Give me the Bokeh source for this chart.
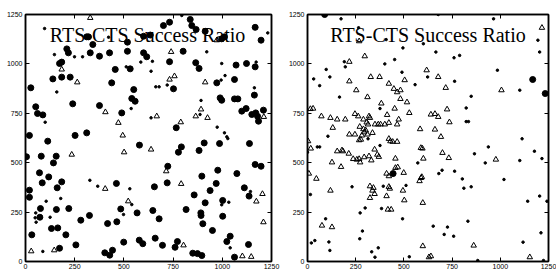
from bokeh.plotting import figure
from bokeh.models import LinearAxis, FixedTicker, Label, Range1d
from bokeh.layouts import row
from bokeh.embed import file_html
from bokeh.resources import INLINE

TICKS = [0, 250, 500, 750, 1000, 1250]
TICK_LABELS = ["0", "250", "500", "750", "1000", "1250"]
TITLE = "RTS-CTS Success Ratio"

# ---------------- left panel ----------------
left_circle_x = [311, 320, 518, 342, 210, 218, 329, 376, 427, 518, 600, 616, 173, 184, 456, 532, 139, 184, 227, 438,
                 27, 550, 540, 557, 240, 376, 52, 61, 88, 489, 20, 252, 311, 579, 113, 5, 80, 156, 142, 71, 118, 184,
                 85, 462, 161, 655, 20, 20, 76, 157, 220, 484, 567, 647, 73, 281, 325, 464, 417, 132, 164, 32, 205,
                 659, 578, 596, 499, 256, 173, 442, 403, 428,
                 732, 837, 845, 701, 600, 634, 867, 913, 1167, 1197, 997, 1011, 801, 732, 865, 882, 1070, 1123, 1167,
                 752, 972, 1062, 1163, 989, 997, 1062, 1079, 1121, 1099, 1150, 1170, 1179, 1209, 1184, 766,
                 777, 792, 908, 882, 986, 1138, 723, 896, 977, 1074, 1167, 1197, 720, 969, 938, 1112, 1136, 857, 913,
                 1002, 816, 891, 892, 1002, 679, 901, 950, 1023, 1040, 696, 760, 772, 1133, 850, 874, 896, 1062]
left_circle_y = [1137, 1137, 1110, 1098, 1076, 1056, 1056, 1039, 1056, 1064, 1056, 1036, 1002, 1009, 972, 975, 924, 933,
                 933, 904, 879, 870, 825, 811, 798, 789, 783, 749, 742, 752, 638, 638, 651, 589, 609, 530, 533, 533,
                 499, 449, 428, 403, 398, 395, 373, 378, 361, 325, 268, 263, 268, 266, 246, 258, 224, 209, 233, 201,
                 192, 167, 170, 135, 135, 118, 108, 90, 98, 84, 67, 57, 44, 32,
                 1211, 1225, 1194, 1194, 1140, 1146, 1174, 1165, 1185, 1120, 1127, 1137, 1064, 1011, 1006, 977, 994,
                 1002, 985, 874, 904, 921, 842, 828, 816, 823, 823, 774, 761, 744, 752, 735, 766, 710, 677,
                 553, 580, 600, 562, 597, 597, 482, 432, 462, 445, 491, 482, 398, 395, 359, 373, 331, 337, 297, 309,
                 263, 246, 233, 229, 216, 191, 157, 101, 128, 82, 72, 101, 86, 42, 40, 30, 22]

left_triangle_x = [329, 184, 263, 406, 472, 667, 494, 501, 638, 235, 405, 522, 146, 29, 972, 740, 732, 757, 913, 892,
                   1211, 789, 865, 925, 715, 791, 1204, 1173, 1209, 803, 1102, 1147]
left_triangle_y = [1233, 972, 907, 756, 702, 735, 638, 553, 567, 541, 368, 305, 57, 52, 1120, 1061, 921, 938, 907, 770,
                   732, 705, 735, 727, 457, 393, 342, 304, 199, 82, 27, 24]

left_dot_x = [97, 422, 147, 249, 290, 586, 645, 512, 638, 159, 662, 537, 100, 638, 327, 367, 530, 179, 105, 540, 52,
              498, 49, 125, 54, 88, 794, 1231, 921, 997, 1172, 720, 679, 994, 1014, 1163, 892, 887, 974, 1011, 1023,
              1028, 1143, 997, 1033, 1040]
left_dot_y = [1179, 1135, 1047, 1036, 1036, 1009, 1013, 985, 963, 858, 884, 774, 705, 727, 411, 381, 368, 319, 305,
              288, 246, 238, 221, 224, 199, 51, 1245, 1157, 1061, 1002, 1009, 893, 884, 918, 941, 879, 815, 744, 680,
              651, 631, 622, 354, 287, 300, 69]

# ---------------- right panel ----------------
right_circle_x = [89, 444, 1168, 1233]
right_circle_y = [1250, 445, 921, 850]

right_triangle_x = [268, 297, 217, 618, 328, 374, 217, 504, 422, 253, 448, 465, 482, 311, 482, 516, 383, 452, 15, 29,
                    528, 413, 72, 119, 154, 196, 246, 263, 319, 324, 290, 473, 131, 271, 307, 314, 350, 367, 379, 401,
                    422, 465, 290, 302, 584, 217, 246, 282, 294, 311,
                    277, 268, 337, 422, 430, 442, 465, 17, 3, 154, 179, 184, 214, 348, 362, 370, 456, 596, 601, 237,
                    256, 268, 273, 294, 319, 331, 127, 174, 456, 468, 7, 46, 410, 422, 499, 593, 581, 324, 342, 337,
                    422, 427, 119, 495, 348, 324, 410, 502, 598, 417, 434, 75, 127, 598, 630,
                    1216, 678, 717, 1006, 640, 661, 678, 724, 736, 661, 692, 588, 700, 733, 977, 589, 862, 640, 1153]
right_triangle_y = [1115, 1039, 1011, 968, 934, 934, 912, 918, 900, 867, 874, 857, 867, 832, 823, 806, 800, 774, 772,
                    774, 752, 742, 735, 727, 719, 719, 747, 735, 735, 727, 719, 719, 677, 682, 704, 694, 694, 694, 694,
                    694, 702, 694, 670, 664, 670, 643, 643, 638, 654, 643,
                    617, 614, 651, 621, 609, 606, 606, 572, 609, 558, 563, 558, 546, 567, 541, 530, 521, 572, 521, 519,
                    516, 519, 502, 528, 533, 512, 502, 479, 474, 477, 445, 419, 445, 432, 449, 428, 407, 381, 373, 359,
                    378, 369, 359, 359, 342, 322, 331, 310, 297, 263, 263, 182, 174, 78, 22,
                    1183, 934, 879, 867, 744, 747, 732, 770, 705, 668, 631, 575, 550, 524, 516, 423, 81, 27, 22]

right_dot_x = [174, 265, 408, 601, 495, 452, 191, 196, 401, 97, 490, 623, 116, 32, 63, 558, 166, 376, 106, 314, 51, 63,
               0, 376, 572, 511, 231, 393, 15, 299, 384, 273, 493, 94, 285, 271, 38, 20, 111, 367, 116, 333, 350, 528,
               678, 965, 1195, 666, 1204, 760, 789, 985, 763, 1101, 849, 823, 823, 835, 1113, 938, 866, 1177, 922,
               1101, 1216, 698, 763, 681, 803, 811, 849, 1019, 1142, 1204, 1242, 832, 652, 726, 709, 758, 1211, 1118,
               883, 1224]
right_dot_y = [1228, 1183, 1123, 1102, 1081, 1022, 1011, 985, 1000, 972, 958, 934, 934, 924, 890, 895, 832, 774, 634,
               621, 580, 580, 553, 587, 499, 385, 378, 381, 339, 271, 268, 246, 216, 216, 154, 115, 106, 94, 99, 69,
               56, 49, 22, 24,
               1250, 1228, 1120, 1060, 1060, 1031, 1043, 968, 912, 867, 836, 777, 708, 708, 621, 580, 545, 558, 499,
               511, 521, 462, 457, 445, 418, 371, 378, 415, 305, 331, 305, 204, 179, 174, 137, 128, 145, 98, 5, 5]


def make_panel(cx, cy, tx, ty, dx, dy, border_left, border_right, total_w, title_x):
    p = figure(width=total_w, height=272,
               min_border_left=border_left, min_border_right=border_right,
               min_border_top=14, min_border_bottom=11,
               x_range=Range1d(0, 1250), y_range=Range1d(0, 1250),
               x_axis_location=None, y_axis_location=None,
               output_backend="svg", toolbar_location=None)
    p.grid.grid_line_color = None
    p.outline_line_color = "black"
    p.outline_line_width = 1.5
    p.background_fill_color = "white"
    p.border_fill_color = "white"

    overrides = {t: l for t, l in zip(TICKS, TICK_LABELS)}
    for loc in ["below", "left", "above", "right"]:
        ax = LinearAxis(ticker=FixedTicker(ticks=TICKS))
        ax.major_tick_in = 4
        ax.major_tick_out = 0
        ax.minor_tick_in = 0
        ax.minor_tick_out = 0
        ax.major_tick_line_color = "black"
        ax.axis_line_color = "black"
        ax.axis_line_width = 1.5
        if loc in ("above", "right"):
            ax.major_label_text_color = None
            ax.major_label_text_font_size = "1px"
            ax.major_label_standoff = 0
        else:
            ax.major_label_overrides = overrides
            ax.major_label_text_font = "Liberation Sans"
            ax.major_label_text_font_size = "7px"
            ax.major_label_text_color = "black"
            ax.major_label_standoff = 2 if loc == "below" else 3
        p.add_layout(ax, loc)

    p.scatter(x=dx, y=dy, marker="circle", size=2.5, color="black")
    p.scatter(x=tx, y=ty, marker="triangle", size=5.5, line_color="black", fill_color=None, line_width=1)
    p.scatter(x=cx, y=cy, marker="circle", size=6, color="black")

    p.add_layout(Label(x=title_x, y=1148, text=TITLE, text_align="center", text_baseline="alphabetic",
                       text_font="Liberation Serif", text_font_size="20px", text_color="black"))
    return p


p1 = make_panel(left_circle_x, left_circle_y, left_triangle_x, left_triangle_y, left_dot_x, left_dot_y,
                25, 14, 285, 620)
p2 = make_panel(right_circle_x, right_circle_y, right_triangle_x, right_triangle_y, right_dot_x, right_dot_y,
                19, 8, 271, 625)

layout = row(p1, p2)
open("out.html", "w").write(file_html(layout, INLINE))
